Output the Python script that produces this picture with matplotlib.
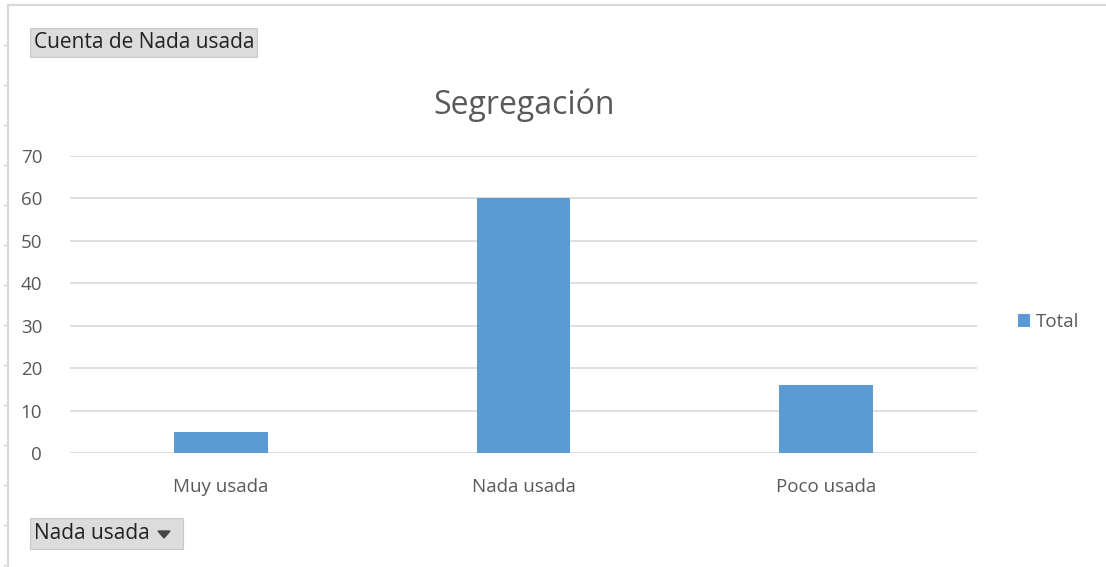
import numpy as np
import matplotlib.pyplot as plt
from matplotlib.patches import Rectangle

categories = ["Muy usada", "Nada usada", "Poco usada"]
totals = [5, 60, 16]
yticks = [0, 10, 20, 30, 40, 50, 60, 70]

plt.rcParams["font.family"] = ["Open Sans", "DejaVu Sans"]

fig = plt.figure(figsize=(11.06, 5.67), dpi=100)
fig.patch.set_facecolor("white")

W, H = 1106, 567

def fx(px):
    return px / W

def fy(py):
    return 1 - py / H

ax = fig.add_axes([fx(70), fy(453), fx(977) - fx(70), fy(156) - fy(453)])
x = np.arange(len(categories))
ax.bar(x, totals, width=0.31, color="#5b9bd5", label="Total", zorder=3)
ax.set_xlim(-0.5, len(categories) - 0.5)
ax.set_ylim(0, 70)
ax.set_yticks(yticks)
ax.set_xticks(x)
ax.set_xticklabels(categories)
ax.grid(axis="y", color="#d9d9d9", lw=1.2, zorder=0)
for s in ax.spines.values():
    s.set_visible(False)
ax.tick_params(axis="both", length=0, colors="#595959", labelsize=13.5)
ax.tick_params(axis="y", pad=20)
ax.tick_params(axis="x", pad=18)

fig.text(fx(524), fy(105), "Segregación", ha="center", va="center",
         fontsize=23, color="#595959")

ax.legend(loc="center left", bbox_to_anchor=(1.035, (453 - 322) / (453 - 156)),
          frameon=False, fontsize=13.5, handlelength=0.65, handleheight=0.65,
          handletextpad=0.3, labelcolor="#595959", borderpad=0)

# pivot frame lines
fig.add_artist(plt.Line2D([fx(8), fx(1106)], [fy(5), fy(5)], color="#d9d9d9", lw=1.5))
fig.add_artist(plt.Line2D([fx(8), fx(8)], [fy(5), fy(567)], color="#d9d9d9", lw=1.5))
for py in np.arange(45, 567, 40):
    fig.add_artist(plt.Line2D([fx(4), fx(8)], [fy(py), fy(py)], color="#d9d9d9", lw=1))

# field buttons
def button(x0, y0, x1, y1, label):
    fig.add_artist(Rectangle((fx(x0), fy(y1)), fx(x1) - fx(x0), fy(y0) - fy(y1),
                             facecolor="#dcdcdc", edgecolor="#c8c8c8", lw=0.8))
    fig.text(fx(x0 + 4), fy((y0 + y1) / 2), label, ha="left", va="center",
             fontsize=15, color="#222222")

button(30, 28, 257, 57, "Cuenta de Nada usada")
button(30, 518, 183, 549, "Nada usada")
fig.add_artist(plt.Polygon([[fx(158), fy(531)], [fx(170), fy(531)], [fx(164), fy(538)]],
                           closed=True, color="#444444"))

fig.savefig("out.png", dpi=100)
